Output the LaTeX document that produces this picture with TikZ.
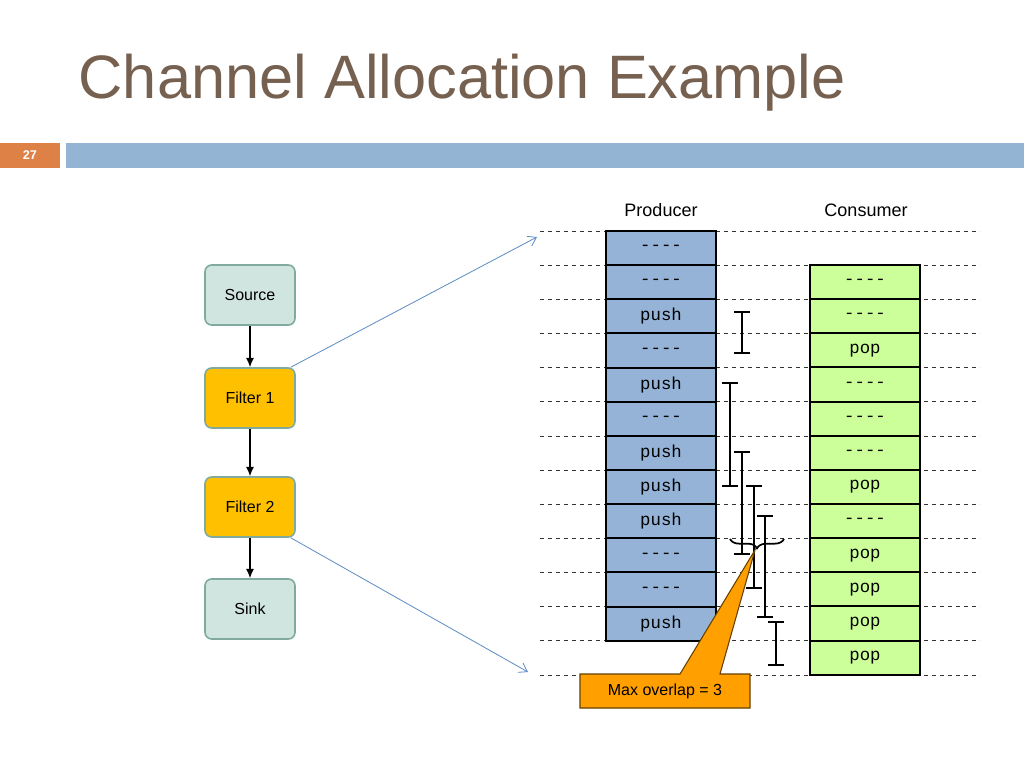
\documentclass[tikz,border=0pt]{standalone}
\usepackage{fontspec}
\setmainfont{Liberation Sans}
\newfontfamily\monof{Liberation Mono}
\usetikzlibrary{decorations.pathreplacing,arrows.meta}
\definecolor{titlec}{HTML}{76604F}
\definecolor{barblue}{HTML}{93B4D3}
\definecolor{barorange}{HTML}{DD8146}
\definecolor{prodc}{HTML}{95B3D7}
\definecolor{consc}{HTML}{CCFF99}
\definecolor{srcfill}{HTML}{D0E4E0}
\definecolor{srcdraw}{HTML}{7FAA9C}
\definecolor{filtfill}{HTML}{FFC000}
\definecolor{callc}{HTML}{FFA000}
\definecolor{arrc}{HTML}{5B8BC0}
\begin{document}
\begin{tikzpicture}[x=0.75pt,y=-0.75pt,
  flow/.style={draw=srcdraw,line width=1.2pt,rounded corners=5pt,minimum width=67.5pt,minimum height=45pt,font=\fontsize{12}{14}\selectfont},
  pcell/.style={draw=black,line width=1.5pt,fill=prodc,minimum width=82.5pt,minimum height=25.6pt,inner sep=0pt,font=\monof\fontsize{13}{15}\selectfont},
  ccell/.style={draw=black,line width=1.5pt,fill=consc,minimum width=82.5pt,minimum height=25.6pt,inner sep=0pt,font=\monof\fontsize{13}{15}\selectfont},
  ibar/.style={line width=1.2pt},
  guide/.style={dashed,line width=0.6pt,draw=black!80},
  link/.style={draw=arrc,line width=0.6pt,-{Straight Barb[length=6pt,width=8pt]}}]
\useasboundingbox (0,0) rectangle (1024,768);
% title and bar
\node[anchor=west,text=titlec,font=\fontsize{46}{52}\selectfont] (title) at (74,83) {Channel Allocation Example};
\fill[barorange] (0,143) rectangle (60,168);
\fill[barblue] (66,143) rectangle (1024,168);
\node[text=white,font=\bfseries\fontsize{9.5}{11}\selectfont] (pg) at (30,155) {27};
% guides
\foreach \i in {0,...,13}{\draw[guide] (540,{231+34.15*\i}) -- (980,{231+34.15*\i});}
% labels
\node[font=\fontsize{13.5}{16}\selectfont] (prod) at (661,210) {Producer};
\node[font=\fontsize{13.5}{16}\selectfont] (cons) at (866,210) {Consumer};
% producer cells
\foreach \t [count=\i from 0] in {----,----,push,----,push,----,push,push,push,----,----,push}{
  \node[pcell] (p\i) at (661,{248+34.15*\i}) {\t};}
\foreach \t [count=\i from 0] in {----,----,pop,----,----,----,pop,----,pop,pop,pop,pop}{
  \node[ccell] (c\i) at (865,{282+34.15*\i}) {\t};}
% interval bars
\foreach \x/\a/\b in {742/312/353,730/383/486,742/452/554,754/486/588,765/516/617,776/622/665}{
  \draw[ibar] (\x,\a) -- (\x,\b);
  \draw[ibar] (\x-8,\a) -- (\x+8,\a);
  \draw[ibar] (\x-8,\b) -- (\x+8,\b);}
% brace
\draw[line width=1.3pt,decorate,decoration={brace,mirror,amplitude=7pt}] (730,539) -- (784,539);
% callout
\draw[fill=callc,draw=black!60!callc,line width=0.8pt] (580,674) -- (680,674) -- (755,550) -- (720,674) -- (750,674) -- (750,708) -- (580,708) -- cycle;
\node[font=\fontsize{12}{14}\selectfont] (callout) at (665,691) {Max overlap = 3};
% flow graph
\node[flow,fill=srcfill] (src) at (250,295) {Source};
\node[flow,fill=filtfill] (f1) at (250,398) {Filter 1};
\node[flow,fill=filtfill] (f2) at (250,507) {Filter 2};
\node[flow,fill=srcfill] (sink) at (250,609) {Sink};
\foreach \a/\b in {src/f1,f1/f2,f2/sink}{\draw[-{Latex[length=7pt,width=6pt]},line width=0.8pt] (\a) -- (\b);}
\coordinate (t1) at (537,237);
\coordinate (t2) at (528,672);
\draw[link] (f1.north east) ++(-5,0) -- (t1);
\draw[link] (f2.south east) ++(-5,0) -- (t2);
\end{tikzpicture}
\end{document}
